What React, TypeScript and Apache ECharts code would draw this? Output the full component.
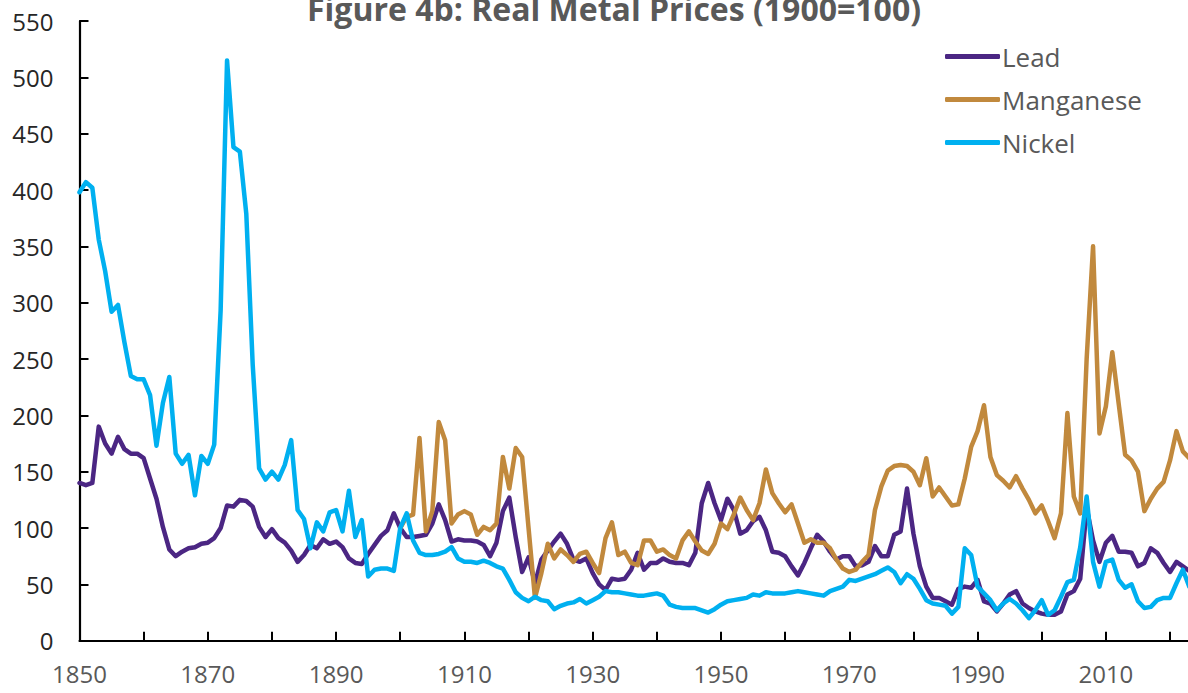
import React, { useEffect, useRef } from "react";
import * as echarts from "echarts";

const LEAD_START = 1850;
const lead = [
  140, 138, 140, 190, 175, 166, 181, 170, 166, 166,
  162, 144, 126, 101, 81, 75, 79, 82, 83, 86,
  87, 91, 100, 120, 119, 125, 124, 119, 101, 92,
  99, 91, 87, 80, 70, 76, 85, 82, 90, 86,
  88, 83, 73, 69, 68, 77, 85, 93, 98, 113,
  100, 92, 92, 93, 94, 104, 121, 107, 88, 90,
  89, 89, 88, 85, 75, 87, 115, 127, 92, 61,
  74, 51, 72, 80, 88, 95, 86, 72, 70, 73,
  60, 50, 45, 55, 54, 55, 63, 78, 63, 69,
  69, 73, 70, 69, 69, 67, 78, 122, 140, 122,
  107, 126, 116, 95, 98, 106, 110, 98, 79, 78,
  75, 66, 58, 69, 82, 94, 88, 79, 72, 75,
  75, 66, 67, 70, 84, 75, 75, 94, 97, 135,
  95, 66, 48, 38, 38, 35, 32, 46, 48, 47,
  54, 35, 33, 26, 33, 41, 44, 33, 29, 26,
  24, 23, 23, 26, 41, 44, 55, 118, 89, 70,
  87, 93, 79, 79, 78, 66, 69, 82, 78, 69,
  61, 70, 66, 62,
];

const MANGANESE_START = 1900;
const manganese = [
  100, 110, 112, 180, 97, 115, 194, 178, 104, 112,
  115, 112, 94, 101, 98, 104, 163, 135, 171, 163,
  100, 38, 60, 86, 73, 81, 76, 70, 77, 79,
  69, 60, 91, 105, 76, 79, 69, 67, 89, 89,
  79, 81, 76, 73, 89, 97, 88, 80, 77, 86,
  104, 99, 112, 127, 116, 107, 122, 152, 131, 122,
  114, 121, 104, 87, 90, 87, 87, 82, 72, 64,
  61, 63, 70, 76, 116, 137, 151, 155, 156, 155,
  150, 138, 162, 128, 136, 128, 120, 121, 144, 172,
  186, 209, 163, 147, 142, 136, 146, 135, 125, 113,
  120, 106, 91, 113, 202, 128, 113, 250, 350, 184,
  208, 256, 210, 165, 160, 150, 115, 126, 135, 141,
  160, 186, 168, 162,
];

const NICKEL_START = 1850;
const nickel = [
  398, 407, 402, 356, 328, 292, 298, 265, 235, 232,
  232, 218, 173, 211, 234, 166, 157, 165, 129, 164,
  157, 174, 293, 515, 438, 434, 379, 245, 153, 143,
  150, 143, 156, 178, 116, 108, 82, 105, 97, 114,
  116, 97, 133, 92, 107, 57, 63, 64, 64, 62,
  100, 113, 89, 78, 76, 76, 77, 79, 83, 73,
  70, 70, 69, 71, 69, 66, 64, 54, 43, 38,
  35, 39, 36, 35, 28, 31, 33, 34, 37, 33,
  36, 39, 44, 43, 43, 42, 41, 40, 40, 41,
  42, 40, 32, 30, 29, 29, 29, 27, 25, 28,
  32, 35, 36, 37, 38, 41, 40, 43, 42, 42,
  42, 43, 44, 43, 42, 41, 40, 44, 46, 48,
  54, 53, 55, 57, 59, 62, 65, 61, 51, 59,
  55, 46, 36, 33, 32, 31, 24, 30, 82, 76,
  48, 42, 36, 27, 33, 37, 33, 27, 20, 27,
  36, 23, 27, 39, 52, 54, 83, 128, 70, 48,
  70, 72, 54, 47, 50, 35, 29, 30, 36, 38,
  38, 51, 63, 48,
];

const xLabelYears = [1850, 1870, 1890, 1910, 1930, 1950, 1970, 1990, 2010];
const yTicks = [0, 50, 100, 150, 200, 250, 300, 350, 400, 450, 500, 550];

const TITLE = "Figure 4b: Real Metal Prices (1900=100)";
const FONT = "'Open Sans', 'DejaVu Sans', sans-serif";

const toPairs = (start: number, vals: number[]) => vals.map((v, i) => [start + i, v]);

export default function App() {
  const ref = useRef<HTMLDivElement>(null);
  useEffect(() => {
    const chart = echarts.init(ref.current!, null, { renderer: "svg" });
    const lineCommon = {
      type: "line",
      showSymbol: false,
      symbol: "none",
      smooth: false,
      clip: true,
    };
    chart.setOption({
      animation: false,
      backgroundColor: "#ffffff",
      textStyle: { fontFamily: FONT },
      grid: { left: 79.5, right: 0, top: 21, bottom: 52.3, containLabel: false },
      graphic: [
        {
          type: "text",
          x: 614,
          y: 8,
          style: {
            text: TITLE,
            fontFamily: FONT,
            fontSize: 32,
            fontWeight: "bold",
            fill: "#595959",
            textAlign: "center",
            textVerticalAlign: "middle",
          },
        },
      ],
      legend: {
        orient: "vertical",
        left: 940,
        top: 38.5,
        itemWidth: 55,
        itemHeight: 5,
        itemGap: 17,
        icon: "roundRect",
        textStyle: { fontFamily: FONT, fontSize: 26, color: "#595959", lineHeight: 26, padding: [0, 0, 0, -3] },
        data: ["Lead", "Manganese", "Nickel"],
      },
      xAxis: {
        type: "value",
        min: 1850,
        max: 2022.8,
        interval: 10,
        axisLine: { show: true, lineStyle: { color: "#000", width: 2.2 } },
        axisTick: { show: true, inside: true, length: 9, lineStyle: { color: "#000", width: 2 } },
        splitLine: { show: false },
        axisLabel: {
          fontFamily: FONT,
          fontSize: 24,
          color: "#595959",
          margin: 21,
          showMaxLabel: false,
          formatter: (v: number) => (xLabelYears.includes(v) ? String(v) : ""),
        },
      },
      yAxis: {
        type: "value",
        min: yTicks[0],
        max: yTicks[yTicks.length - 1],
        interval: 50,
        axisLine: { show: true, lineStyle: { color: "#000", width: 2.2 } },
        axisTick: { show: true, inside: true, length: 9, lineStyle: { color: "#000", width: 2 } },
        splitLine: { show: false },
        axisLabel: {
          fontFamily: FONT,
          fontSize: 24,
          color: "#262626",
          margin: 26,
        },
      },
      series: [
        {
          ...lineCommon,
          name: "Lead",
          data: toPairs(LEAD_START, lead),
          color: "#4B2683",
          lineStyle: { color: "#4B2683", width: 4.5, cap: "round", join: "round" },
        },
        {
          ...lineCommon,
          name: "Manganese",
          data: toPairs(MANGANESE_START, manganese),
          color: "#C1893D",
          lineStyle: { color: "#C1893D", width: 4.5, cap: "round", join: "round" },
        },
        {
          ...lineCommon,
          name: "Nickel",
          data: toPairs(NICKEL_START, nickel),
          color: "#00B0F0",
          lineStyle: { color: "#00B0F0", width: 4.5, cap: "round", join: "round" },
        },
      ],
    });
    return () => chart.dispose();
  }, []);
  return (
    <div
      ref={ref}
      style={{ position: "fixed", left: 0, top: 0, width: 1188, height: 693, background: "#fff" }}
    />
  );
}
